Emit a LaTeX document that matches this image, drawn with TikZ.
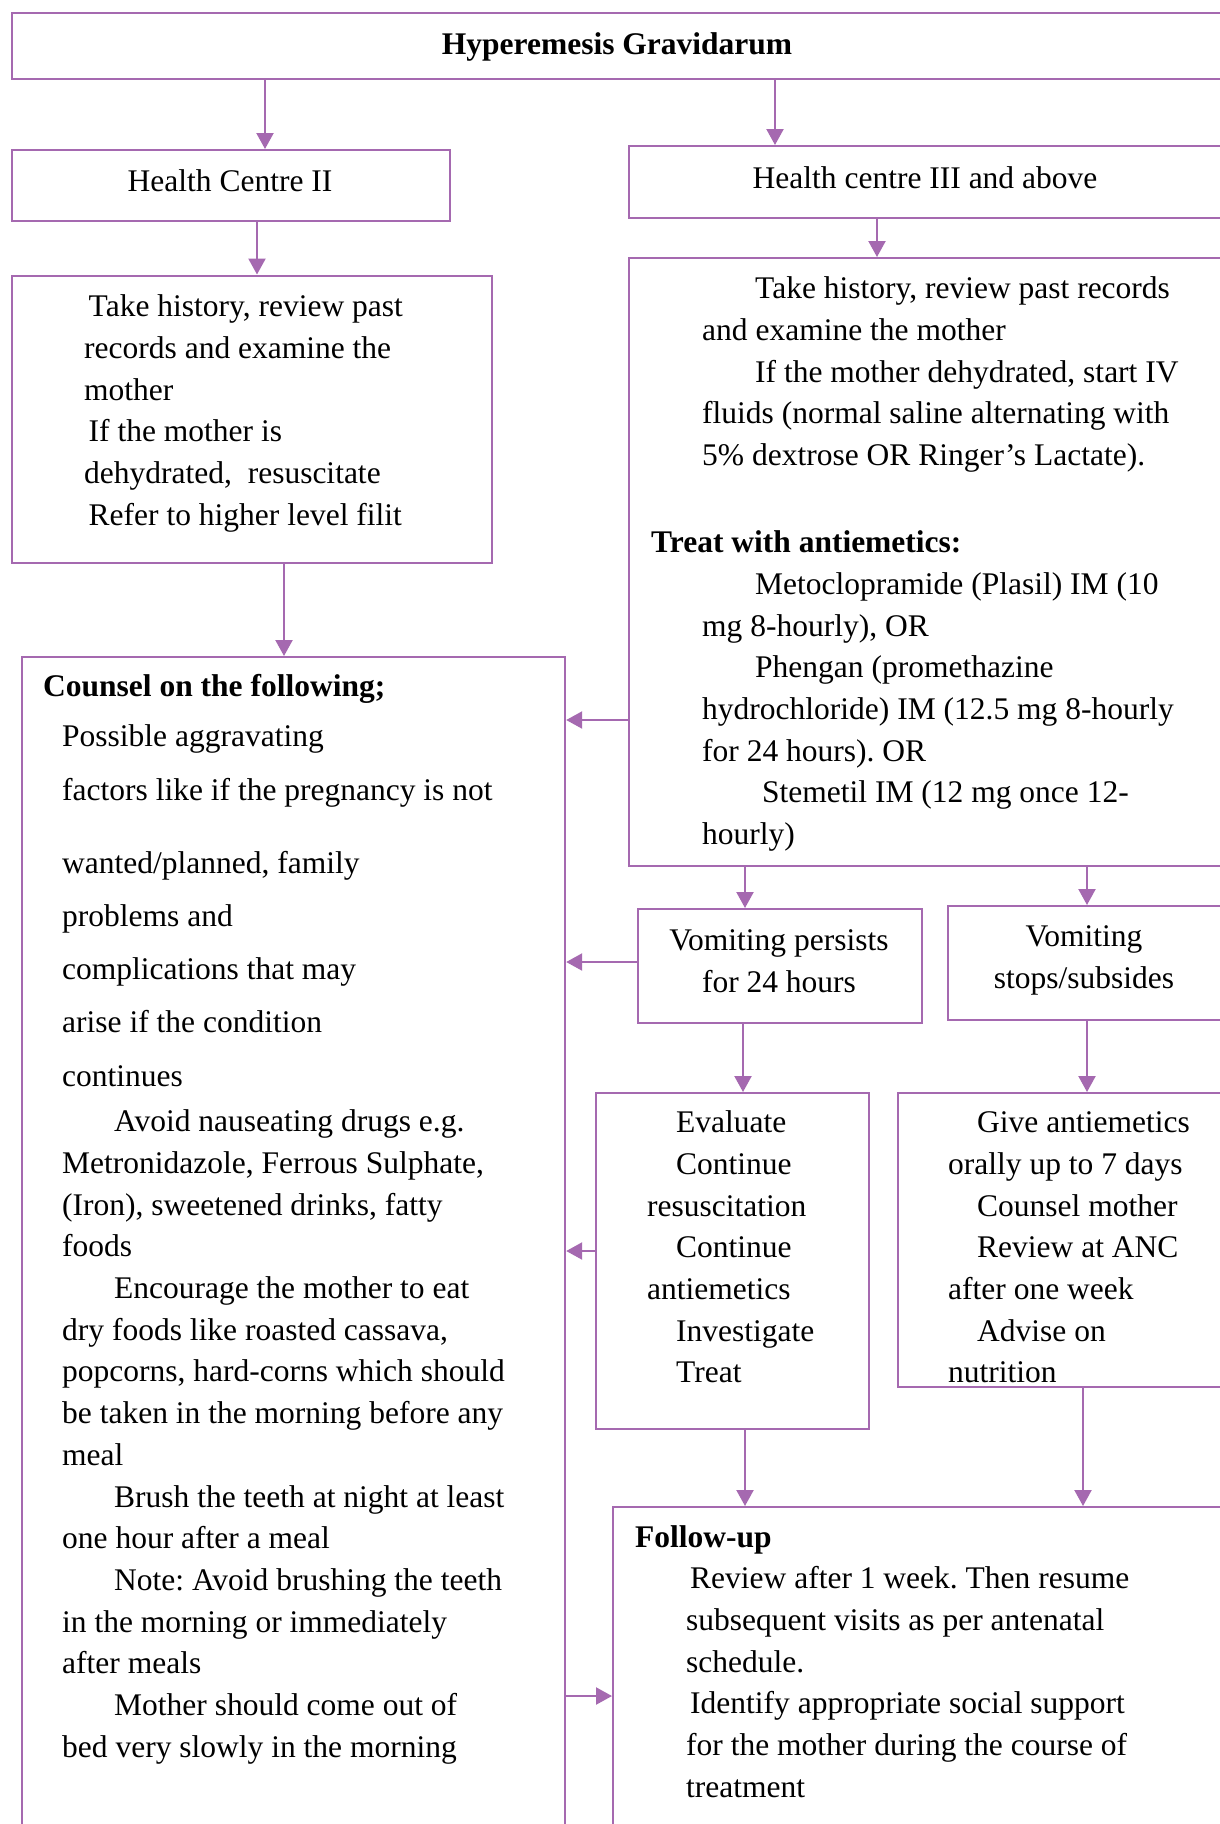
\documentclass[tikz,border=0pt]{standalone}
\usepackage{fontspec}
\setmainfont{Liberation Serif}
\frenchspacing
\usetikzlibrary{arrows.meta}
\definecolor{pcol}{RGB}{165,105,176}
\begin{document}
\begin{tikzpicture}[x=1pt,y=-1pt,
  box/.style={draw=pcol, line width=2.2pt, rectangle, inner sep=0pt, anchor=north west},
  txt/.style={inner sep=0pt, align=left, anchor=north west, font=\frenchspacing\fontsize{31.5}{41.7}\selectfont},
  ctxt/.style={inner sep=0pt, align=center, anchor=north, font=\frenchspacing\fontsize{31.5}{41.7}\selectfont},
  one/.style={inner sep=0pt, anchor=base, font=\fontsize{31.5}{41.7}\selectfont},
  arr/.style={draw=pcol, line width=2.2pt, -{Triangle[length=16pt,width=17pt]}}]
\useasboundingbox (0,0) rectangle (1220,1824);
\clip (0,0) rectangle (1220,1824);
\fill[white] (0,0) rectangle (1220,1824);

% boxes
\node[box, minimum width=1230pt, minimum height=66.4pt] (top) at (10.5,11.6) {};
\node[box, minimum width=438.5pt, minimum height=71pt] (hc2) at (10.5,149) {};
\node[box, minimum width=612pt, minimum height=72pt] (hc3) at (628,145) {};
\node[box, minimum width=480.5pt, minimum height=287.5pt] (hist2) at (10.5,274.5) {};
\node[box, minimum width=612pt, minimum height=608pt] (hist3) at (628,257) {};
\node[box, minimum width=543pt, minimum height=1190pt] (counsel) at (21,656) {};
\node[box, minimum width=284pt, minimum height=114pt] (vp) at (637,908) {};
\node[box, minimum width=293pt, minimum height=114pt] (vs) at (947,905) {};
\node[box, minimum width=273pt, minimum height=336pt] (eval) at (595,1092) {};
\node[box, minimum width=343pt, minimum height=294pt] (give) at (897,1092) {};
\node[box, minimum width=628pt, minimum height=340pt] (fu) at (612,1506) {};

% texts
\node[one] (topt) at (617,54) {\textbf{Hyperemesis Gravidarum}};
\node[one] (hc2t) at (230,191.5) {Health Centre II};
\node[one] (hc3t) at (925,188.5) {Health centre III and above};

\node[txt] (hist2t) at (84,287.3) {\strut\hspace*{4.5pt}Take history, review past\\
records and examine the\\
mother\\
\hspace*{4.5pt}If the mother is\\
dehydrated,\ \ resuscitate\\
\hspace*{4.5pt}Refer to higher level filit};

\node[txt] (hist3t) at (651,269.3) {\strut\hspace*{104pt}Take history, review past records\\
\hspace*{51pt}and examine the mother\\
\hspace*{104pt}If the mother dehydrated, start IV\\
\hspace*{51pt}fluids (normal saline alternating with\\
\hspace*{51pt}5\% dextrose OR Ringer’s Lactate).\\[45.5pt]
\textbf{Treat with antiemetics:}\\
\hspace*{104pt}Metoclopramide (Plasil) IM (10\\
\hspace*{51pt}mg 8-hourly), OR\\
\hspace*{104pt}Phengan (promethazine\\
\hspace*{51pt}hydrochloride) IM (12.5 mg 8-hourly\\
\hspace*{51pt}for 24 hours). OR\\
\hspace*{111pt}Stemetil IM (12 mg once 12-\\
\hspace*{51pt}hourly)};

\node[txt] (counselt) at (43,667.3) {\strut\textbf{Counsel on the following;}\\[8.3pt]
\hspace*{19pt}Possible aggravating\\[12.3pt]
\hspace*{19pt}factors like if the pregnancy is not\\[31.3pt]
\hspace*{19pt}wanted/planned, family\\[11.3pt]
\hspace*{19pt}problems and\\[11.3pt]
\hspace*{19pt}complications that may\\[11.3pt]
\hspace*{19pt}arise if the condition\\[12.3pt]
\hspace*{19pt}continues\\[3.3pt]
\hspace*{71pt}Avoid nauseating drugs e.g.\\
\hspace*{19pt}Metronidazole, Ferrous Sulphate,\\
\hspace*{19pt}(Iron), sweetened drinks, fatty\\
\hspace*{19pt}foods\\
\hspace*{71pt}Encourage the mother to eat\\
\hspace*{19pt}dry foods like roasted cassava,\\
\hspace*{19pt}popcorns, hard-corns which should\\
\hspace*{19pt}be taken in the morning before any\\
\hspace*{19pt}meal\\
\hspace*{71pt}Brush the teeth at night at least\\
\hspace*{19pt}one hour after a meal\\
\hspace*{71pt}Note: Avoid brushing the teeth\\
\hspace*{19pt}in the morning or immediately\\
\hspace*{19pt}after meals\\
\hspace*{71pt}Mother should come out of\\
\hspace*{19pt}bed very slowly in the morning};

\node[ctxt] (vpt) at (779,921.3) {\strut Vomiting persists\\for 24 hours};
\node[ctxt] (vst) at (1084,917.3) {\strut Vomiting\\stops/subsides};

\node[txt] (evalt) at (647,1103.3) {\strut\hspace*{29pt}Evaluate\\
\hspace*{29pt}Continue\\
resuscitation\\
\hspace*{29pt}Continue\\
antiemetics\\
\hspace*{29pt}Investigate\\
\hspace*{29pt}Treat};

\node[txt] (givet) at (948,1103.3) {\strut\hspace*{29pt}Give antiemetics\\
orally up to 7 days\\
\hspace*{29pt}Counsel mother\\
\hspace*{29pt}Review at ANC\\
after one week\\
\hspace*{29pt}Advise on\\
nutrition};

\node[txt] (fut) at (635,1518.3) {\strut\textbf{Follow-up}\\[-0.7pt]
\hspace*{55pt}Review after 1 week. Then resume\\
\hspace*{51pt}subsequent visits as per antenatal\\
\hspace*{51pt}schedule.\\
\hspace*{55pt}Identify appropriate social support\\
\hspace*{51pt}for the mother during the course of\\
\hspace*{51pt}treatment};

% arrows
\draw[arr] (265,0 |- top.south) -- (265,0 |- hc2.north);
\draw[arr] (775,0 |- top.south) -- (775,0 |- hc3.north);
\draw[arr] (257,0 |- hc2.south) -- (257,0 |- hist2.north);
\draw[arr] (877,0 |- hc3.south) -- (877,0 |- hist3.north);
\draw[arr] (284,0 |- hist2.south) -- (284,0 |- counsel.north);
\draw[arr] (hist3.west |- 0,720) -- (counsel.east |- 0,720);
\draw[arr] (745,0 |- hist3.south) -- (745,0 |- vp.north);
\draw[arr] (1087,0 |- hist3.south) -- (1087,0 |- vs.north);
\draw[arr] (vp.west |- 0,962) -- (counsel.east |- 0,962);
\draw[arr] (743,0 |- vp.south) -- (743,0 |- eval.north);
\draw[arr] (1087,0 |- vs.south) -- (1087,0 |- give.north);
\draw[arr] (eval.west |- 0,1251) -- (counsel.east |- 0,1251);
\draw[arr] (745,0 |- eval.south) -- (745,0 |- fu.north);
\draw[arr] (1083,0 |- give.south) -- (1083,0 |- fu.north);
\draw[arr] (counsel.east |- 0,1696) -- (fu.west |- 0,1696);
\end{tikzpicture}
\end{document}
